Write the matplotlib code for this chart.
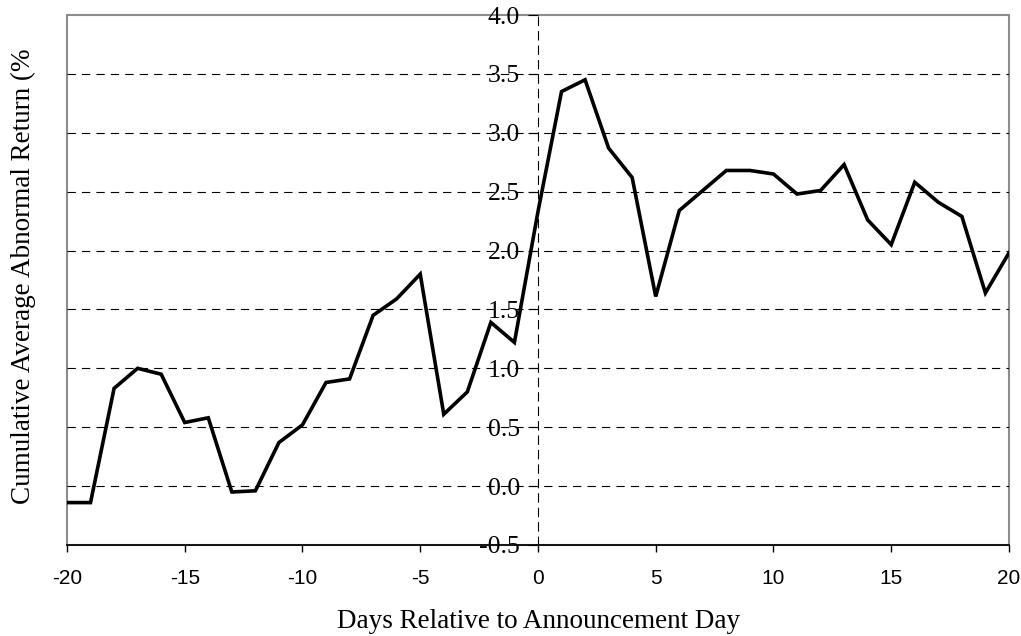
import matplotlib
matplotlib.use("Agg")
import matplotlib.pyplot as plt
from matplotlib.patches import Rectangle

# event days and cumulative average abnormal return (%)
days = list(range(-20, 21))
caar = [-0.14, -0.14, 0.83, 1.00, 0.95, 0.54, 0.58, -0.05, -0.04, 0.37,
        0.52, 0.88, 0.91, 1.45, 1.59, 1.80, 0.61, 0.80, 1.39, 1.22,
        2.33, 3.35, 3.45, 2.87, 2.62, 1.61, 2.34, 2.51, 2.68, 2.68,
        2.65, 2.48, 2.51, 2.73, 2.26, 2.05, 2.58, 2.41, 2.29, 1.64,
        1.98]
x_ticks = [-20, -15, -10, -5, 0, 5, 10, 15, 20]
y_ticks = [-0.5, 0.0, 0.5, 1.0, 1.5, 2.0, 2.5, 3.0, 3.5, 4.0]
grid_levels = [0.0, 0.5, 1.0, 1.5, 2.0, 2.5, 3.0, 3.5]

serif = "Liberation Serif"
sans = "Liberation Sans"

fig = plt.figure(figsize=(10.21, 6.36), dpi=100)
ax = fig.add_axes([0.0656, 0.1431, 0.9226, 0.8333])

ax.set_xlim(-20, 20)
ax.set_ylim(-0.5, 4.0)

# dashed horizontal gridlines
for lvl in grid_levels:
    ax.axhline(lvl, color="black", lw=0.8, dashes=(7.5, 5.5), zorder=1)

ax.plot(days, caar, color="black", lw=2.6, solid_joinstyle="miter", zorder=3)

# y axis sits at day 0, dashed
for s in ["top", "right"]:
    ax.spines[s].set_visible(False)
ax.spines["left"].set_position(("data", 0))
ax.spines["left"].set_linestyle((0, (7.5, 5.5)))
ax.spines["left"].set_linewidth(0.8)
ax.spines["bottom"].set_linewidth(1.2)

# gray outer frame
ax.add_patch(Rectangle((0, 0), 1, 1, transform=ax.transAxes, fill=False,
                       edgecolor="#8c8c8c", lw=1.5, zorder=0, clip_on=False))

ax.set_xticks(x_ticks)
ax.set_xticklabels([str(v) for v in x_ticks], fontfamily=sans, fontsize=15)
ax.set_yticks(y_ticks)
ax.set_yticklabels([f"{v:.1f}" for v in y_ticks], fontfamily=serif, fontsize=18.5)
ax.tick_params(axis="y", direction="out", length=7, width=0.8, pad=6)
ax.tick_params(axis="x", direction="out", length=5, width=1.0, pad=12)

fig.text(0.527, 0.0126, "Days Relative to Announcement Day", family=serif,
         fontsize=19.5, ha="center", va="baseline")
fig.text(0.023, 0.566, "Cumulative Average Abnormal Return (%", family=serif,
         fontsize=19.5, rotation=90, ha="center", va="center")

fig.savefig("out.png", dpi=100)
